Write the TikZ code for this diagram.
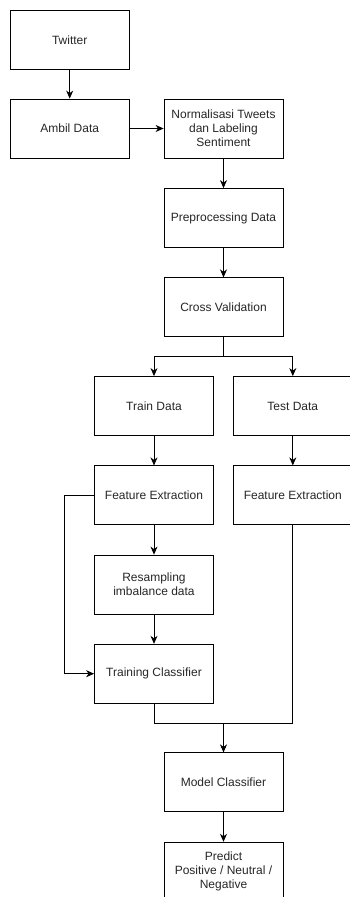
\documentclass[tikz,border=0pt]{standalone}
\usepackage{fontspec}
\setmainfont{Liberation Sans}
\usetikzlibrary{positioning,calc,arrows.meta}
\newcommand*{\lbl}{\fontsize{12}{14}\selectfont}

\begin{document}
\begin{tikzpicture}[x=1pt,y=-1pt,
  box/.style={draw,line width=0.8pt,minimum width=119pt,minimum height=59pt,
    inner sep=1pt,align=center,font=\lbl,text=black!85},
  arr/.style={-{Stealth[length=8pt,width=7pt,inset=2.5pt]},line width=0.8pt},
  lin/.style={line width=0.8pt}]
\useasboundingbox (0,0) rectangle (349,897);
% Left column
\node[box] (twitter) at (69.7,39.8) {Twitter};
\node[box] (ambil) at (69.7,128.5) {Ambil Data};
% Middle column
\node[box] (norm) at (223.5,128.5) {Normalisasi Tweets\\dan Labeling\\Sentiment};
\node[box] (prep) at (223.5,218) {Preprocessing Data};
\node[box] (cross) at (223.5,307.3) {Cross Validation};
% Train branch
\node[box] (train) at (154,406) {Train Data};
\node[box] (featA) at (154,495.3) {Feature Extraction};
\node[box] (resamp) at (154,584.5) {Resampling\\imbalance data};
\node[box] (trainclf) at (154,673.7) {Training Classifier};
% Test branch
\node[box] (test) at (292.8,406) {Test Data};
\node[box] (featB) at (292.8,495.3) {Feature Extraction};
% Final steps
\node[box] (model) at (223.5,782.3) {Model Classifier};
\node[box] (predict) at (223.5,871.7) {Predict\\Positive / Neutral /\\Negative};
% Junction points
\coordinate (split) at ($(cross.south)+(0,19.5)$);
\coordinate (loop) at (64.3,0);
\coordinate (merge) at (223.5,723.3);
% Arrows
\draw[arr] (twitter) -- (ambil);
\draw[arr] (ambil) -- (norm);
\draw[arr] (norm) -- (prep);
\draw[arr] (prep) -- (cross);
\draw[lin] (cross.south) -- (split);
\draw[arr] (split) -| (train.north);
\draw[arr] (split) -| (test.north);
\draw[arr] (train) -- (featA);
\draw[arr] (test) -- (featB);
\draw[arr] (featA) -- (resamp);
\draw[arr] (resamp) -- (trainclf);
\draw[arr] (featA.west) -| (loop |- featA.west) |- (trainclf.west);
\draw[lin] (trainclf.south) |- (merge);
\draw[lin] (featB.south) |- (merge);
\draw[arr] (merge) -- (model);
\draw[arr] (model) -- (predict);
\end{tikzpicture}
\end{document}
